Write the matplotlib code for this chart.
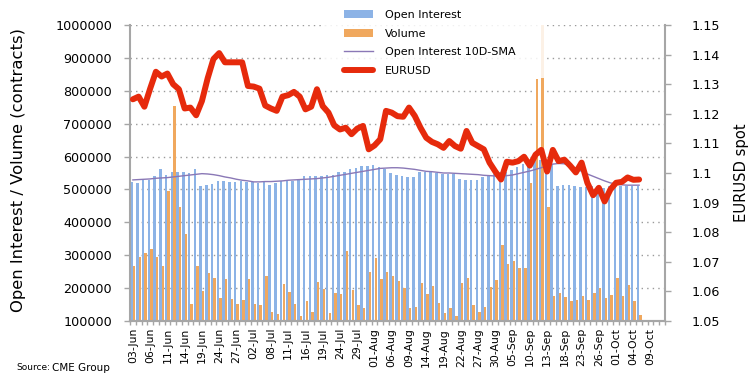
import numpy as np
import matplotlib
matplotlib.use('Agg')
import matplotlib.pyplot as plt
from matplotlib.lines import Line2D
from matplotlib.patches import Patch, Rectangle
from matplotlib.ticker import FuncFormatter

plt.rcParams['font.family'] = ['DejaVu Sans']

# CME EUR futures, one value per business day from 03-Jun to 07-Oct (thousands of contracts)
open_interest = [523, 520, 530, 528, 540, 562, 545, 552, 552, 552, 550, 562,
                 510, 513, 518, 525, 525, 523, 523, 525, 523, 523, 520, 523,
                 515, 520, 525, 525, 525, 530, 540, 540, 540, 540, 545, 545,
                 552, 552, 563, 565, 570, 570, 573, 568, 562, 550, 543, 540,
                 538, 538, 553, 554, 552, 549, 547, 547, 547, 532, 528, 528,
                 530, 538, 540, 547, 552, 554, 560, 568, 577, 588, 598, 590,
                 580, 577, 510, 512, 512, 510, 508, 508, 510, 510, 505, 510,
                 512, 510, 510, 510, 510]
volume = [268, 294, 306, 318, 294, 268, 494, 755, 448, 365, 152, 268,
          191, 247, 232, 169, 227, 167, 152, 164, 227, 152, 148, 238,
          128, 120, 213, 189, 152, 115, 161, 128, 220, 197, 123, 184,
          181, 314, 194, 149, 141, 250, 293, 227, 248, 238, 221, 200,
          139, 144, 217, 181, 205, 156, 123, 139, 116, 215, 230, 149,
          128, 144, 203, 225, 332, 273, 281, 262, 261, 520, 835, 1100,
          448, 176, 184, 172, 161, 164, 176, 164, 184, 200, 169, 179,
          230, 176, 210, 161, 118]
oi_sma = [529, 530, 531, 532, 534, 535, 536, 538, 540, 542, 544, 546,
          548, 547, 545, 542, 538, 535, 531, 528, 526, 523, 523, 524,
          524, 525, 526, 528, 529, 530, 531, 532, 533, 535, 537, 540,
          543, 546, 549, 552, 555, 558, 561, 564, 565, 566, 566, 565,
          563, 561, 558, 555, 554, 552, 550, 550, 549, 548, 547, 546,
          545, 543, 542, 541, 541, 542, 544, 548, 552, 556, 561, 566,
          572, 577, 579, 578, 572, 564, 555, 547, 540, 533, 526, 520,
          516, 514, 513, 513, 513]
eurusd = [1.1249, 1.1258, 1.1224, 1.1285, 1.1342, 1.1326, 1.1336, 1.1300, 1.1283, 1.1218, 1.1221, 1.1195,
          1.1243, 1.1320, 1.1385, 1.1405, 1.1374, 1.1374, 1.1374, 1.1374, 1.1294, 1.1292, 1.1285, 1.1228,
          1.1218, 1.1210, 1.1258, 1.1263, 1.1274, 1.1258, 1.1215, 1.1224, 1.1283, 1.1226, 1.1204, 1.1161,
          1.1147, 1.1153, 1.1131, 1.1150, 1.1159, 1.1080, 1.1093, 1.1114, 1.1210, 1.1204, 1.1192, 1.1190,
          1.1221, 1.1193, 1.1153, 1.1119, 1.1105, 1.1097, 1.1085, 1.1108, 1.1091, 1.1082, 1.1142, 1.1102,
          1.1091, 1.1080, 1.1035, 1.1005, 1.0978, 1.1038, 1.1035, 1.1040, 1.1055, 1.1025, 1.1062, 1.1078,
          1.1005, 1.1078, 1.1040, 1.1045, 1.1025, 1.1002, 1.1035, 1.0967, 1.0925, 1.0950, 1.0904, 1.0944,
          1.0967, 1.0970, 1.0985, 1.0977, 1.0978]

tick_labels = ['03-Jun', '06-Jun', '11-Jun', '14-Jun', '19-Jun', '24-Jun', '27-Jun',
               '02-Jul', '08-Jul', '11-Jul', '16-Jul', '19-Jul', '24-Jul', '29-Jul',
               '01-Aug', '06-Aug', '09-Aug', '14-Aug', '19-Aug', '22-Aug', '27-Aug', '30-Aug',
               '05-Sep', '10-Sep', '13-Sep', '18-Sep', '23-Sep', '26-Sep',
               '01-Oct', '04-Oct', '09-Oct']
n_days = 93      # axis runs through 11-Oct
label_every = 3

grey = '#a6a6a6'
blue = '#8cb3e6'
orange = '#f0a85e'
purple = '#8a78b6'
red = '#e62a0c'

oi = np.array(open_interest) * 1000
vol = np.array(volume) * 1000
sma = np.array(oi_sma) * 1000
x = np.arange(len(vol))

fig = plt.figure(figsize=(7.52, 3.85), dpi=100)
ax = fig.add_axes([130 / 752, 64 / 385, 535 / 752, 296 / 385])

ax.bar(x - 0.22, oi, width=0.44, color=blue, zorder=2)
ax.bar(x + 0.22, vol, width=0.42, color=orange, zorder=3)
ax.plot(x, sma, color=purple, lw=1.0, zorder=4)

ax.set_xlim(-0.5, n_days - 0.5)
ax.set_ylim(100000, 1000000)
ax.set_yticks(np.arange(100000, 1000001, 100000))
ax.yaxis.set_major_formatter(FuncFormatter(lambda v, p: f'{int(v)}'))
ax.yaxis.grid(True, linestyle=(0, (1, 3)), color='#9a9a9a', lw=1.0, zorder=0)
ax.set_axisbelow(True)

ax.set_xticks(np.arange(0, len(tick_labels) * label_every, label_every))
ax.set_xticklabels(tick_labels, rotation=90, fontsize=7.8)
ax.set_xticks(np.arange(-0.5, n_days, 1), minor=True)
ax.tick_params(axis='x', which='major', length=0, pad=5)
ax.tick_params(axis='x', which='minor', length=3, color=grey, width=1)
ax.tick_params(axis='y', length=4, color=grey, width=1, labelsize=9.2, pad=9)

ax2 = ax.twinx()
ax2.plot(x, eurusd, color=red, lw=4.3, solid_capstyle='round', solid_joinstyle='round', zorder=5)
ax2.set_ylim(1.05, 1.15)
ax2.set_yticks(np.round(np.arange(1.05, 1.1501, 0.01), 2))
ax2.yaxis.set_major_formatter(FuncFormatter(lambda v, p: f'{round(v, 2):g}'))
ax2.tick_params(axis='y', length=4, color=grey, width=1, labelsize=9.2, pad=15)

for a in (ax, ax2):
    a.spines['top'].set_visible(False)
    for s in ('left', 'right', 'bottom'):
        a.spines[s].set_color(grey)
        a.spines[s].set_linewidth(1.5)
ax.spines['right'].set_visible(False)
ax2.spines['left'].set_visible(False)

ax.set_ylabel('Open Interest / Volume (contracts)', fontsize=11.8)
ax.yaxis.set_label_coords(-0.194, 0.51)
ax2.set_ylabel('EURUSD spot', fontsize=10.6)
ax2.yaxis.set_label_coords(1.129, 0.5)

# semi-transparent backing of the legend, it washes out whatever sits behind it
fig.add_artist(Rectangle((325 / 752, 1 - 78 / 385), 220 / 752, 78 / 385,
                         transform=fig.transFigure, facecolor='white', alpha=0.85,
                         edgecolor='none', zorder=4))

handles = [Patch(facecolor=blue), Patch(facecolor=orange),
           Line2D([], [], color=purple, lw=1.0),
           Line2D([], [], color=red, lw=4.3, solid_capstyle='round')]
labels = ['Open Interest', 'Volume', 'Open Interest 10D-SMA', 'EURUSD']
fig.legend(handles, labels, loc='upper left', bbox_to_anchor=(334 / 752, 1.0),
           frameon=False, fontsize=8, handlelength=2.6, handletextpad=1.1,
           labelspacing=0.78, borderpad=0.9, borderaxespad=0)

fig.text(16 / 752, 0.045, 'Source:', fontsize=6.5, va='center')
fig.text(52 / 752, 0.045, 'CME Group', fontsize=7.5, va='center')

fig.savefig('out.png', dpi=100)
